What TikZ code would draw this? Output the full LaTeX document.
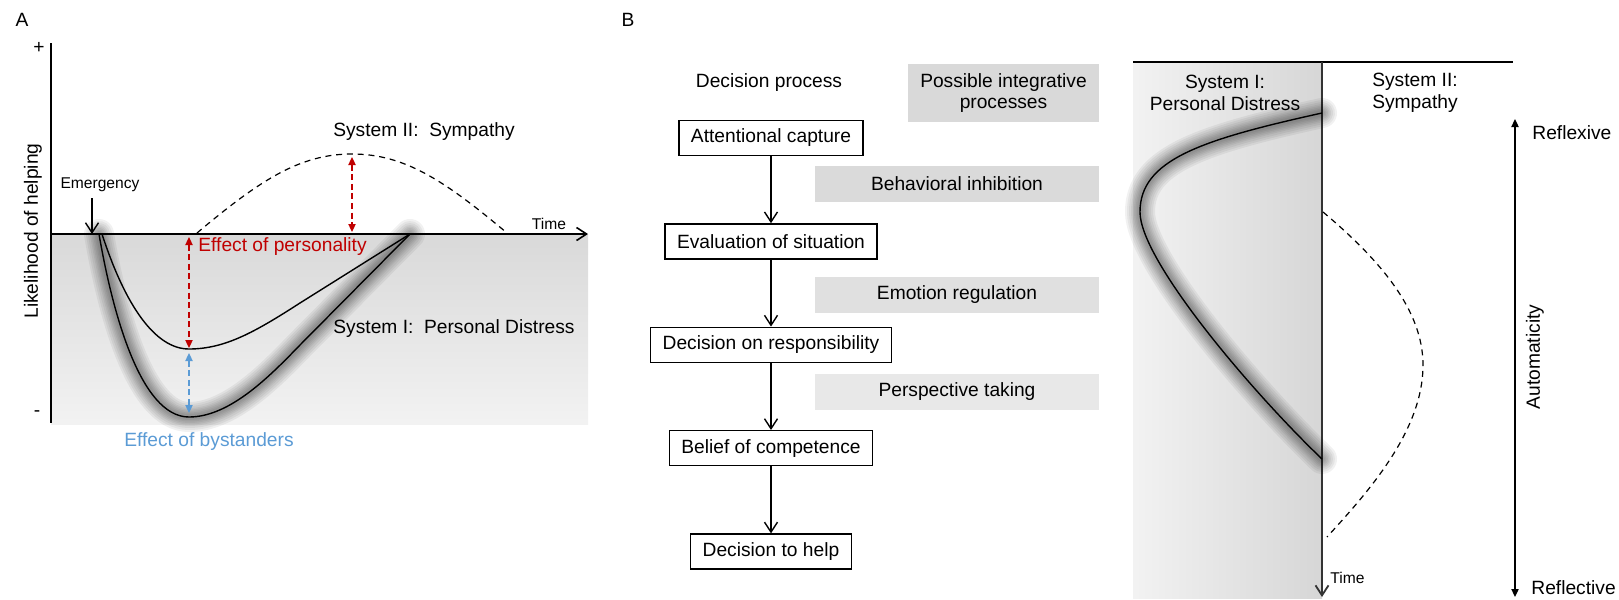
\documentclass[tikz,border=0pt]{standalone}
\usepackage{fontspec}
\setmainfont{Liberation Sans}
\usetikzlibrary{arrows.meta,positioning}
\definecolor{perscol}{HTML}{C00000}
\definecolor{bystcol}{HTML}{5B9BD5}
\tikzset{
	txt/.style = {font=\fontsize{9.6}{10.8}\selectfont, inner sep=0pt},
	smalltxt/.style = {font=\fontsize{7.8}{9}\selectfont, inner sep=0pt},
	stepbox/.style = {draw, line width=0.7pt, font=\fontsize{9.6}{10.8}\selectfont, minimum height=17.5pt, inner xsep=6pt, inner ysep=0pt},
	intbox/.style = {fill=#1, font=\fontsize{9.6}{10.8}\selectfont, minimum width=142pt, minimum height=18pt, inner sep=0pt, align=center},
	flow/.style = {line width=0.7pt, -{Straight Barb[length=5pt,width=6.5pt]}},
	effect/.style = {draw=#1, line width=0.8pt, dash pattern=on 3pt off 1.8pt, {Triangle[length=4pt,width=3.6pt]}-{Triangle[length=4pt,width=3.6pt]}},
	glow/.style = {draw=black, line width=#1, opacity=0.055, line cap=round, line join=round},
	sympathy/.style = {line width=0.6pt, dash pattern=on 3pt off 2.4pt}
}
\begin{document}
\begin{tikzpicture}[x=0.5pt, y=-0.5pt]
	\useasboundingbox (0,0) rectangle (1619,600);

	% A
	\node[txt] (labA) at (22,20) {A};
	\fill[top color=gray!30, bottom color=gray!10] (51,234) rectangle (588,424);
	\coordinate (yTop) at (51,43);
	\coordinate (yBot) at (51,423);
	\coordinate (xL) at (51,234);
	\coordinate (xR) at (588,234);
	\draw[line width=0.8pt] (yTop) -- (yBot);
	\draw[flow, line width=0.8pt] (xL) -- (xR);
	\node[txt] (plus) at (39,48) {+};
	\node[txt] (minus) at (37,414) {-};
	\node[txt, rotate=90] (ylab) at (33,231) {Likelihood of helping};
	\node[smalltxt] (emerg) at (100,185) {Emergency};
	\coordinate (emergPt) at (92,234);
	\draw[flow] ([yshift=-3pt]emerg.south -| emergPt) -- (emergPt);
	\node[smalltxt] (timeA) at (549,224) {Time};

	\path[save path=\outerA] (99,234) .. controls (112,310) and (140,417) .. (189,417)
		.. controls (230,417) and (270,376) .. (300,345) -- (410,234);
	\foreach \w in {15,13,11,9,7.5,6,4.5,3}
		\draw[glow=\w pt, use path=\outerA];
	\draw[line width=0.7pt, use path=\outerA];
	\draw[line width=0.7pt] (102,234) .. controls (125,305) and (155,349) .. (189,349)
		.. controls (225,349) and (255,332) .. (300,303) -- (410,234);
	\draw[sympathy] (197,233) .. controls (260,180) and (300,154) .. (352,154)
		.. controls (404,154) and (444,180) .. (507,233);
	\node[txt] (sysII) at (424,132) {System II:\ \ Sympathy};
	\node[txt] (sysI) at (454,329) {System I:\ \ Personal Distress};

	\coordinate (pTop) at (189,237);
	\coordinate (pBot) at (189,348);
	\coordinate (sTop) at (352,157);
	\coordinate (sBot) at (352,232);
	\coordinate (bTop) at (189,353);
	\coordinate (bBot) at (189,413);
	\draw[effect=perscol] (pTop) -- (pBot);
	\draw[effect=perscol] (sTop) -- (sBot);
	\draw[effect=bystcol] (bTop) -- (bBot);
	\node[txt, text=perscol, anchor=west] (persLab) at (198,247) {Effect of personality};
	\node[txt, text=bystcol] (bystLab) at (209,442) {Effect of bystanders};

	% B
	\node[txt] (labB) at (628,20) {B};
	\node[txt] (dproc) at (769,83) {Decision process};
	\node[stepbox] (att) at (771,138) {Attentional capture};
	\node[stepbox, below=33.5pt of att] (eval) {Evaluation of situation};
	\node[stepbox, below=33.5pt of eval] (resp) {Decision on responsibility};
	\node[stepbox, below=33.5pt of resp] (comp) {Belief of competence};
	\node[stepbox, below=33.5pt of comp] (help) {Decision to help};
	\draw[flow] (att) -- (eval);
	\draw[flow] (eval) -- (resp);
	\draw[flow] (resp) -- (comp);
	\draw[flow] (comp) -- (help);

	\node[intbox=gray!30, minimum width=95.5pt, minimum height=29pt] (poss) at (1003.5,93) {Possible integrative\\processes};
	\node[intbox=gray!29] (behav) at (957,184) {Behavioral inhibition};
	\node[intbox=gray!24] (emot) at (957,295) {Emotion regulation};
	\node[intbox=gray!18] (persp) at (957,392) {Perspective taking};

	\fill[left color=gray!10, right color=gray!32] (1133,62) rectangle (1322,598);
	\coordinate (topL) at (1133,62);
	\coordinate (topR) at (1513,62);
	\coordinate (tTop) at (1322,62);
	\coordinate (tBot) at (1322,597);
	\draw[line width=0.8pt] (topL) -- (topR);
	\draw[flow, line width=0.9pt, black!80] (tTop) -- (tBot);
	\node[smalltxt, anchor=west] (timeB) at (1330,578) {Time};
	\node[txt, align=center] (sysIB) at (1225,93) {System I:\\Personal Distress};
	\node[txt, align=center] (sysIIB) at (1415,93) {System II:\\Sympathy};

	\path[save path=\curveB] (1322,113) .. controls (1200,140) and (1140,160) .. (1140,212)
		.. controls (1140,260) and (1250,390) .. (1322,459);
	\foreach \w in {15,13,11,9,7.5,6,4.5,3}
		\draw[glow=\w pt, use path=\curveB];
	\draw[line width=0.7pt, use path=\curveB];
	\draw[sympathy] (1323,212) .. controls (1380,260) and (1423,310) .. (1423,365)
		.. controls (1423,430) and (1370,490) .. (1327,537);

	\coordinate (aTop) at (1515,119);
	\coordinate (aBot) at (1515,597);
	\draw[line width=0.8pt, {Triangle[length=4pt,width=3.6pt]}-{Triangle[length=4pt,width=3.6pt]}] (aTop) -- (aBot);
	\node[txt, anchor=west] (reflex) at (1532,133) {Reflexive};
	\node[txt, anchor=west] (reflec) at (1531,588) {Reflective};
	\node[txt, rotate=90] (autom) at (1535,357) {Automaticity};
\end{tikzpicture}
\end{document}
